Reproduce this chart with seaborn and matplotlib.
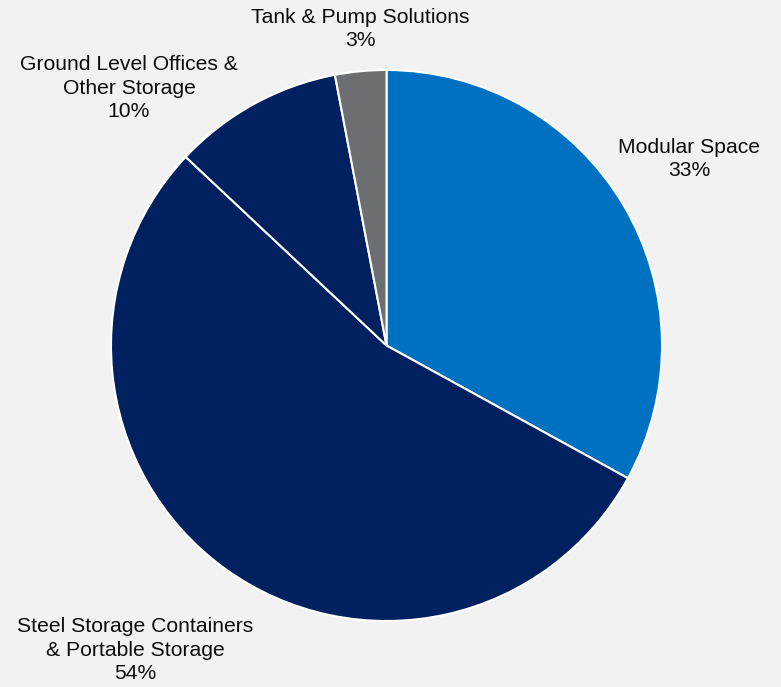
import matplotlib
matplotlib.use("Agg")
import matplotlib.pyplot as plt
import seaborn as sns

# Revenue mix by product line
segments = ["Modular Space", "Steel Storage Containers\n& Portable Storage",
            "Ground Level Offices &\nOther Storage", "Tank & Pump Solutions"]
shares = [33, 54, 10, 3]
colors = ["#0070C0", "#002060", "#002060", "#6D6E71"]

sns.set_theme(style="white")
plt.rcParams["font.family"] = ["Liberation Sans", "DejaVu Sans"]

bg = "#F2F2F2"
fig = plt.figure(figsize=(7.81, 6.87), dpi=100, facecolor=bg)
ax = fig.add_axes([0, 0, 1, 1])
ax.set_facecolor(bg)

cx, cy, r = 386.5, 687 - 345.5, 275.5
ax.pie(shares, colors=colors, startangle=90, counterclock=False,
       center=(cx, cy), radius=r,
       wedgeprops=dict(edgecolor="white", linewidth=1.5))

# Label positions (x, y from top) for each segment
label_pos = [(689, 159), (135, 650), (129, 88), (360, 29)]
for name, val, (lx, ly) in zip(segments, shares, label_pos):
    ax.text(lx, 687 - ly, f"{name}\n{val}%", ha="center", va="center",
            fontsize=15.2, color="#0D0D0D", linespacing=1.33)

ax.set_xlim(0, 781)
ax.set_ylim(0, 687)
ax.set_aspect("equal")
ax.axis("off")

fig.savefig("out.png", dpi=100, facecolor=bg)
